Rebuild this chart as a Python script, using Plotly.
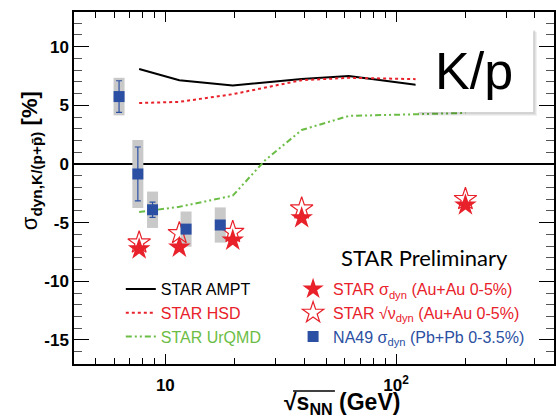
import plotly.graph_objects as go

# ---- data ----
star_energy = [7.7, 11.5, 19.6, 39, 200]
star_sigma_dyn = [-7.25, -7.1, -6.5, -4.6, -3.5]
star_nu_dyn = [-6.7, -5.9, -5.8, -3.8, -3.0]

na49_energy = [6.3, 7.6, 8.8, 12.3, 17.3]
na49_sigma = [5.75, -0.85, -3.9, -5.55, -5.2]
na49_stat = [1.35, 2.3, 0.65, 0.3, 0.3]
na49_sys = [1.6, 2.9, 1.55, 1.5, 1.5]

ampt_energy = [7.7, 11.5, 19.6, 39, 62.4, 200]
ampt = [8.1, 7.15, 6.7, 7.25, 7.5, 6.2]
hsd_energy = [7.7, 11.5, 19.6, 39, 62.4, 200]
hsd = [5.2, 5.3, 5.95, 7.15, 7.35, 7.15]
urqmd_energy = [7.7, 11.5, 19.6, 27, 39, 62.4, 200]
urqmd = [-4.1, -3.65, -2.7, 0.3, 2.9, 4.1, 4.35]

x_tickvals = [10, 100]
x_ticktext = ["10", "10<sup>2</sup>"]
x_minor = [4, 5, 6, 7, 8, 9, 20, 30, 40, 50, 60, 70, 80, 90, 200, 300, 400]
y_tickvals = [-15, -10, -5, 0, 5, 10]
y_ticktext = ["-15", "-10", "-5", "0", "5", "10"]

RED = "#e8212a"
BLUE = "#2b4fa2"
GREEN = "#6cbd45"
W, H = 556, 418
L, R, T, B = 74, 0, 12, 54
PW, PH = W - L - R, H - T - B


def px(xp):
    return (xp - L) / PW


def py(yp):
    return (H - B - yp) / PH


fig = go.Figure()

# model lines
fig.add_trace(go.Scatter(x=ampt_energy, y=ampt, mode="lines", name="STAR AMPT",
                         line=dict(color="black", width=2), legend="legend"))
fig.add_trace(go.Scatter(x=hsd_energy, y=hsd, mode="lines",
                         name=f"<span style='color:{RED}'>STAR HSD</span>",
                         line=dict(color=RED, width=2, dash="3px,3px"), legend="legend"))
fig.add_trace(go.Scatter(x=urqmd_energy, y=urqmd, mode="lines",
                         name=f"<span style='color:{GREEN}'>STAR UrQMD</span>",
                         line=dict(color=GREEN, width=2, dash="6px,3px,2px,3px,2px,3px"),
                         legend="legend"))

# NA49 systematic boxes
fig.add_trace(go.Scatter(x=na49_energy, y=na49_sigma, mode="markers",
                         marker=dict(size=1, color="rgba(0,0,0,0)"), showlegend=False,
                         error_y=dict(type="data", array=na49_sys, thickness=11, width=0,
                                      color="#c9c9c9")))

# STAR points
fig.add_trace(go.Scatter(x=star_energy, y=star_sigma_dyn, mode="markers",
                         name=f"<span style='color:{RED}'>STAR σ<sub>dyn</sub> (Au+Au 0-5%)</span>",
                         marker=dict(symbol="star", size=17, color=RED), legend="legend2"))
fig.add_trace(go.Scatter(x=star_energy, y=star_nu_dyn, mode="markers",
                         name=f"<span style='color:{RED}'>STAR √ν<sub>dyn</sub> (Au+Au 0-5%)</span>",
                         marker=dict(symbol="star-open", size=17, color=RED, line=dict(width=1.2)),
                         legend="legend2"))
fig.add_trace(go.Scatter(x=na49_energy, y=na49_sigma, mode="markers",
                         name=f"<span style='color:{BLUE}'>NA49 σ<sub>dyn</sub> (Pb+Pb 0-3.5%)</span>",
                         marker=dict(symbol="square", size=11, color=BLUE),
                         error_y=dict(type="data", array=na49_stat, thickness=1.2, width=3,
                                      color=BLUE),
                         legend="legend2"))

# K/p box with soft shadow
for off, alpha in [(4, 0.05), (3, 0.06), (2, 0.07)]:
    fig.add_shape(type="rect", xref="paper", yref="paper",
                  x0=px(417 + off), x1=px(535 + off), y0=py(112 + off), y1=py(28 + off),
                  fillcolor=f"rgba(0,0,0,{alpha})", line=dict(width=0), layer="above")
fig.add_shape(type="rect", xref="paper", yref="paper",
              x0=px(417), x1=px(535), y0=py(112), y1=py(28),
              fillcolor="white", line=dict(width=0), layer="above")
fig.add_annotation(xref="paper", yref="paper", x=px(476), y=py(71), text="K/p",
                   xanchor="center", yanchor="middle",
                   showarrow=False, font=dict(family="Liberation Sans", size=52, color="black"))

fig.add_annotation(xref="paper", yref="paper", x=px(426), y=py(257), text="STAR Preliminary",
                   xanchor="center", yanchor="middle",
                   showarrow=False, font=dict(family="Lato", size=22, color="black"))

# axis titles
fig.add_annotation(xref="paper", yref="paper", x=px(31), y=py(161), textangle=-90,
                   xanchor="center", yanchor="middle",
                   text="σ<sub><b>dyn,K/(p+p̄)</b></sub> <b>[%]</b>", showarrow=False,
                   font=dict(family="Liberation Sans", size=22, color="black"))
fig.add_annotation(xref="paper", yref="paper", x=px(343), y=py(404),
                   xanchor="center", yanchor="middle",
                   text="<b>√s<sub>NN</sub> (GeV)</b>",
                   showarrow=False, font=dict(family="Liberation Sans", size=23, color="black"))
fig.add_shape(type="line", xref="paper", yref="paper",
              x0=px(294), x1=px(336), y0=py(391), y1=py(391),
              line=dict(color="black", width=1.5), layer="above")

fig.update_layout(
    width=W, height=H, margin=dict(l=L, r=R, t=T, b=B),
    paper_bgcolor="white", plot_bgcolor="white",
    font=dict(family="Liberation Sans", color="black"),
    showlegend=True,
    legend=dict(x=px(121), y=py(272), xanchor="left", yanchor="top",
                bgcolor="rgba(0,0,0,0)", font=dict(size=16, family="Liberation Sans"),
                tracegroupgap=0),
    legend2=dict(x=px(294), y=py(272), xanchor="left", yanchor="top",
                 bgcolor="rgba(0,0,0,0)", font=dict(size=16, family="Liberation Sans"),
                 tracegroupgap=0),
    xaxis=dict(type="log", range=[0.604, 2.685], showgrid=False, zeroline=False,
               showline=True, linecolor="black", linewidth=1.5, mirror="ticks",
               ticks="inside", ticklen=10, tickcolor="black", tickwidth=1,
               tickmode="array", tickvals=x_tickvals, ticktext=x_ticktext,
               ticklabelstandoff=5,
               tickfont=dict(size=17, family="Liberation Sans", weight="bold"),
               minor=dict(tickmode="array", tickvals=x_minor, ticks="inside", ticklen=6,
                          tickcolor="black", showgrid=False)),
    yaxis=dict(range=[-17.05, 12.96], showgrid=False,
               zeroline=True, zerolinecolor="black", zerolinewidth=1.5,
               showline=True, linecolor="black", linewidth=1.5, mirror="ticks",
               ticks="inside", ticklen=15, tickcolor="black", tickwidth=1,
               tickmode="array", tickvals=y_tickvals, ticktext=y_ticktext,
               tickfont=dict(size=17, family="Liberation Sans", weight="bold"),
               minor=dict(dtick=1, ticks="inside", ticklen=8, tickcolor="#555555",
                          showgrid=False)),
)

fig.write_html("out.html", config={"displayModeBar": False},
               post_script="document.body.style.margin='0px';document.body.style.overflow='hidden';")
